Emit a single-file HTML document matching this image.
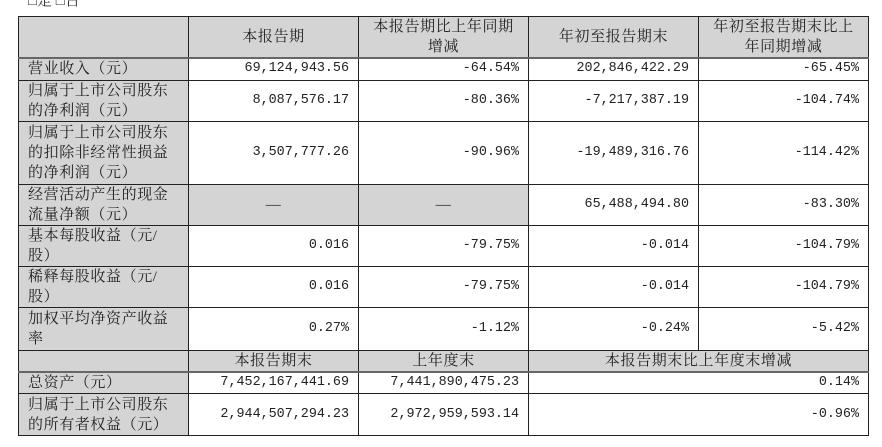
<!DOCTYPE html>
<html><head><meta charset="utf-8"><style>
html,body{margin:0;padding:0;background:#fff;width:882px;height:447px;overflow:hidden;position:relative}
.top{position:absolute;left:28px;top:-11px;font:15px "Liberation Serif","Noto Serif CJK SC",serif;color:#333}
table{position:absolute;left:18px;top:16px;border-collapse:collapse;table-layout:fixed;font-family:"Liberation Serif","Noto Serif CJK SC",serif;font-size:15px;color:#222}
td{border:1px solid #222;padding:0 9px;line-height:20px;overflow:hidden;white-space:nowrap}
.g{background:#d4d4d4}
.c{text-align:center;letter-spacing:0.6px}
.n{text-align:right;font-family:"Liberation Mono","Noto Serif CJK SC",monospace;font-size:13.4px}
.l{text-align:left;letter-spacing:0.6px}
.hb td{border-bottom:2px solid #666}
</style></head><body>
<div class="top">□是 □否</div>
<table>
<colgroup><col style="width:170px"><col style="width:170px"><col style="width:170px"><col style="width:170px"><col style="width:170px"></colgroup>
<tr class="hb" style="height:41px"><td class="g"></td><td class="g c">本报告期</td><td class="g c">本报告期比上年同期<br>增减</td><td class="g c">年初至报告期末</td><td class="g c">年初至报告期末比上<br>年同期增减</td></tr>
<tr style="height:22px"><td class="g l">营业收入（元）</td><td class="n">69,124,943.56</td><td class="n">-64.54%</td><td class="n">202,846,422.29</td><td class="n">-65.45%</td></tr>
<tr style="height:41px"><td class="g l">归属于上市公司股东<br>的净利润（元）</td><td class="n">8,087,576.17</td><td class="n">-80.36%</td><td class="n">-7,217,387.19</td><td class="n">-104.74%</td></tr>
<tr style="height:63px"><td class="g l">归属于上市公司股东<br>的扣除非经常性损益<br>的净利润（元）</td><td class="n">3,507,777.26</td><td class="n">-90.96%</td><td class="n">-19,489,316.76</td><td class="n">-114.42%</td></tr>
<tr style="height:41px"><td class="g l">经营活动产生的现金<br>流量净额（元）</td><td class="g c">—</td><td class="g c">—</td><td class="n">65,488,494.80</td><td class="n">-83.30%</td></tr>
<tr style="height:41px"><td class="g l">基本每股收益（元/<br>股）</td><td class="n">0.016</td><td class="n">-79.75%</td><td class="n">-0.014</td><td class="n">-104.79%</td></tr>
<tr style="height:41px"><td class="g l">稀释每股收益（元/<br>股）</td><td class="n">0.016</td><td class="n">-79.75%</td><td class="n">-0.014</td><td class="n">-104.79%</td></tr>
<tr style="height:43px"><td class="g l">加权平均净资产收益<br>率</td><td class="n">0.27%</td><td class="n">-1.12%</td><td class="n">-0.24%</td><td class="n">-5.42%</td></tr>
<tr class="hb" style="height:22px"><td class="g"></td><td class="g c">本报告期末</td><td class="g c">上年度末</td><td class="g c" colspan="2">本报告期末比上年度末增减</td></tr>
<tr style="height:21px"><td class="g l">总资产（元）</td><td class="n">7,452,167,441.69</td><td class="n">7,441,890,475.23</td><td class="n" colspan="2">0.14%</td></tr>
<tr style="height:42px"><td class="g l">归属于上市公司股东<br>的所有者权益（元）</td><td class="n">2,944,507,294.23</td><td class="n">2,972,959,593.14</td><td class="n" colspan="2">-0.96%</td></tr>
</table>
</body></html>
